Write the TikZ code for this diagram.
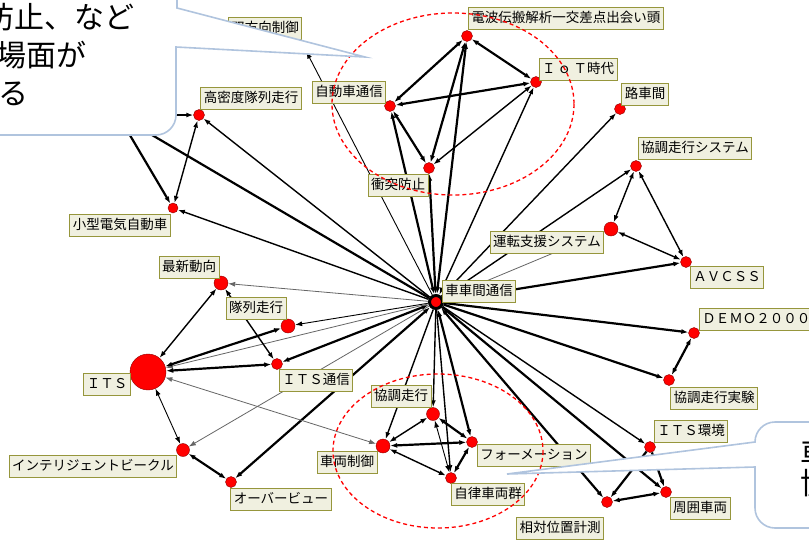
\documentclass[tikz,border=0pt]{standalone}
\usepackage{fontspec}
\setmainfont{Noto Sans CJK JP}
\usetikzlibrary{arrows.meta}
\definecolor{lblfill}{RGB}{240,240,224}
\definecolor{lbldraw}{RGB}{150,150,60}
\definecolor{bubbleline}{RGB}{176,196,222}
\tikzset{
  vtx/.style={circle, fill=red, draw=red!55!black, line width=0.4pt, inner sep=0pt, minimum size=#1},
  vtx/.default=11pt,
  lbl/.style={draw=lbldraw, fill=lblfill, line width=0.9pt, font=\fontsize{13.5}{14}\selectfont,
    inner xsep=3pt, inner ysep=0pt, minimum height=22pt, text height=11pt, text depth=2.5pt},
  thk/.style={line width=2.2pt},
  med/.style={line width=1.4pt},
  thn/.style={line width=0.9pt},
  gry/.style={line width=0.8pt, black!60},
  arr/.style={-{Latex[length=7pt,width=5pt]}},
  dbl/.style={{Latex[length=7pt,width=5pt]}-{Latex[length=7pt,width=5pt]}},
  ring/.style={red, line width=1.3pt, dash pattern=on 4pt off 3pt},
  bubble/.style={draw=bubbleline, fill=white, line width=1.6pt},
  bubbletext/.style={inner sep=0pt, anchor=base west, font=\fontsize{30}{30}\selectfont},
}
\begin{document}
\begin{tikzpicture}[x=1pt, y=-1pt]
	\useasboundingbox (0,0) rectangle (809,539);
	\clip (0,0) rectangle (809,539);
	\fill [white] (0,0) rectangle (809,539);

	\node [vtx=13pt, draw=black, line width=3pt] (hub) at (436,302) {};
	\node [vtx] (denpa) at (467,36) {};
	\node [vtx] (iot) at (536,82) {};
	\node [vtx] (jido) at (390,106) {};
	\node [vtx] (shoto) at (429,168) {};
	\node [vtx=10pt] (sohoko) at (304,47) {};
	\node [vtx] (komitsu) at (199,115) {};
	\node [vtx=10pt] (kogata) at (173,208) {};
	\node [vtx] (rosha) at (620,109) {};
	\node [vtx] (kyosys) at (636,166) {};
	\node [vtx=14pt] (unten) at (611,229) {};
	\node [vtx] (avcss) at (686,262) {};
	\node [vtx] (demo) at (694,333) {};
	\node [vtx] (kjikken) at (669,380) {};
	\node [vtx] (itskan) at (650,447) {};
	\node [vtx] (shui) at (666,492) {};
	\node [vtx] (sotai) at (607,502) {};
	\node [vtx] (forma) at (472,442) {};
	\node [vtx=13pt] (kyocho) at (433,414) {};
	\node [vtx=14pt] (sharyo) at (383,446) {};
	\node [vtx] (jiritsu) at (451,478) {};
	\node [vtx] (itstsu) at (277,364) {};
	\node [vtx=14pt] (tairetsu) at (288,326) {};
	\node [vtx=14pt] (saishin) at (221,283) {};
	\node [vtx=36pt] (its) at (148,372) {};
	\node [vtx=13pt] (intel) at (183,450) {};
	\node [vtx] (over) at (231,482) {};
	\coordinate (hid) at (118,115);

	\draw [thk, dbl] (denpa) -- (iot);
	\draw [thk, dbl] (denpa) -- (jido);
	\draw [thk, dbl] (iot) -- (jido);
	\draw [thk, dbl] (denpa) -- (shoto);
	\draw [med, dbl] (iot) -- (shoto);
	\draw [thk, dbl] (jido) -- (shoto);
	\draw [thk, dbl] (hub) -- (denpa);
	\draw [med, dbl] (hub) -- (iot);
	\draw [thk, dbl] (hub) -- (jido);
	\draw [thk, dbl] (hub) -- (shoto);
	\draw [thn, arr] (hub) -- (sohoko);
	\draw [thk] (hub) -- (hid);
	\draw [thk, arr] (hid) -- (komitsu);
	\draw [thk, arr] (hid) -- (kogata);
	\draw [med, dbl] (komitsu) -- (kogata);
	\draw [med, arr] (hub) -- (komitsu);
	\draw [med, arr] (hub) -- (kogata);
	\draw [gry, arr] (hub) -- (saishin);
	\draw [thn, arr] (hub) -- (tairetsu);
	\draw [thk, dbl] (hub) -- (itstsu);
	\draw [gry, arr] (hub) -- (its);
	\draw [gry, arr] (hub) -- (intel);
	\draw [thk, dbl] (hub) -- (over);
	\draw [med, arr] (hub) -- (sharyo);
	\draw [med, arr] (hub) -- (kyocho);
	\draw [med, arr] (hub) -- (jiritsu);
	\draw [thk, dbl] (hub) -- (forma);
	\draw [thk, dbl] (hub) -- (sotai);
	\draw [thk, arr] (hub) -- (shui);
	\draw [med, arr] (hub) -- (itskan);
	\draw [thk, arr] (hub) -- (kjikken);
	\draw [thk, arr] (hub) -- (demo);
	\draw [thk, arr] (hub) -- (avcss);
	\draw [gry, arr] (hub) -- (unten);
	\draw [med, arr] (hub) -- (kyosys);
	\draw [med, arr] (hub) -- (rosha);
	\draw [med, dbl] (kyosys) -- (unten);
	\draw [med, dbl] (kyosys) -- (avcss);
	\draw [med, dbl] (unten) -- (avcss);
	\draw [thk, dbl] (demo) -- (kjikken);
	\draw [thk, arr] (itskan) -- (sotai);
	\draw [thk, arr] (itskan) -- (shui);
	\draw [thk, dbl] (sotai) -- (shui);
	\draw [med, dbl] (kyocho) -- (sharyo);
	\draw [thk, dbl] (kyocho) -- (forma);
	\draw [thn, dbl] (kyocho) -- (jiritsu);
	\draw [thk, dbl] (sharyo) -- (forma);
	\draw [med, dbl] (sharyo) -- (jiritsu);
	\draw [thk, dbl] (forma) -- (jiritsu);
	\draw [med, dbl] (saishin) -- (its);
	\draw [med, dbl] (saishin) -- (itstsu);
	\draw [thk, dbl] (tairetsu) -- (its);
	\draw [thk, dbl] (itstsu) -- (its);
	\draw [gry, dbl] (its) -- (sharyo);
	\draw [thn, dbl] (its) -- (intel);
	\draw [thk, dbl] (intel) -- (over);

	\node [lbl, anchor=west] (l-denpa) at (468,18) {電波伝搬解析一交差点出会い頭};
	\node [lbl] (l-iot) at (578,69) {Ｉ\,ｏ\,Ｔ時代};
	\node [lbl] (l-jido) at (349,92) {自動車通信};
	\node [lbl] (l-shoto) at (398,185) {衝突防止};
	\node [lbl] (l-sohoko) at (265,28) {双方向制御};
	\node [lbl] (l-komitsu) at (251,98) {高密度隊列走行};
	\node [lbl] (l-kogata) at (120,225) {小型電気自動車};
	\node [lbl] (l-rosha) at (645,94) {路車間};
	\node [lbl] (l-kyosys) at (695,148) {協調走行システム};
	\node [lbl] (l-unten) at (547,242) {運転支援システム};
	\node [lbl] (l-avcss) at (727,277) {ＡＶＣＳＳ};
	\node [lbl, anchor=west] (l-demo) at (699,319) {ＤＥＭＯ２０００};
	\node [lbl] (l-kjikken) at (714,398) {協調走行実験};
	\node [lbl] (l-itskan) at (691,431) {ＩＴＳ環境};
	\node [lbl] (l-shui) at (700,508) {周囲車両};
	\node [lbl] (l-sotai) at (560,528) {相対位置計測};
	\node [lbl] (l-forma) at (534,455) {フォーメーション};
	\node [lbl] (l-kyocho) at (401,396) {協調走行};
	\node [lbl] (l-sharyo) at (347,462) {車両制御};
	\node [lbl] (l-jiritsu) at (488,494) {自律車両群};
	\node [lbl] (l-hub) at (479,291) {車車間通信};
	\node [lbl] (l-itstsu) at (316,380) {ＩＴＳ通信};
	\node [lbl] (l-tairetsu) at (256,308) {隊列走行};
	\node [lbl] (l-saishin) at (189,267) {最新動向};
	\node [lbl] (l-its) at (107,384) {ＩＴＳ};
	\node [lbl] (l-intel) at (93,466) {インテリジェントビークル};
	\node [lbl] (l-over) at (281,499) {オーバービュー};

	\draw [ring] (453,104) ellipse [x radius=121, y radius=91];
	\draw [ring] (438,451) ellipse [x radius=105, y radius=77];

	\draw [bubble] (-30,135) -- (156,135) arc [start angle=90, end angle=0, radius=20]
		-- (176,47) -- (365,57) -- (177,8) -- (177,-30) -- (-30,-30) -- cycle;
	\node [bubbletext] (b1) at (-16,28) {防止、など};
	\node [bubbletext] (b2) at (-4,66) {場面が};
	\node [bubbletext] (b3) at (-2,104) {る};

	\draw [bubble] (840,422) -- (775,422) arc [start angle=270, end angle=180, radius=20]
		-- (755,442) -- (507,474) -- (755,467) -- (755,508) arc [start angle=180, end angle=90, radius=20]
		-- (840,528) -- cycle;
	\node [bubbletext] (b4) at (800,464) {車両};
	\node [bubbletext] (b5) at (800,494) {協調};
\end{tikzpicture}
\end{document}
